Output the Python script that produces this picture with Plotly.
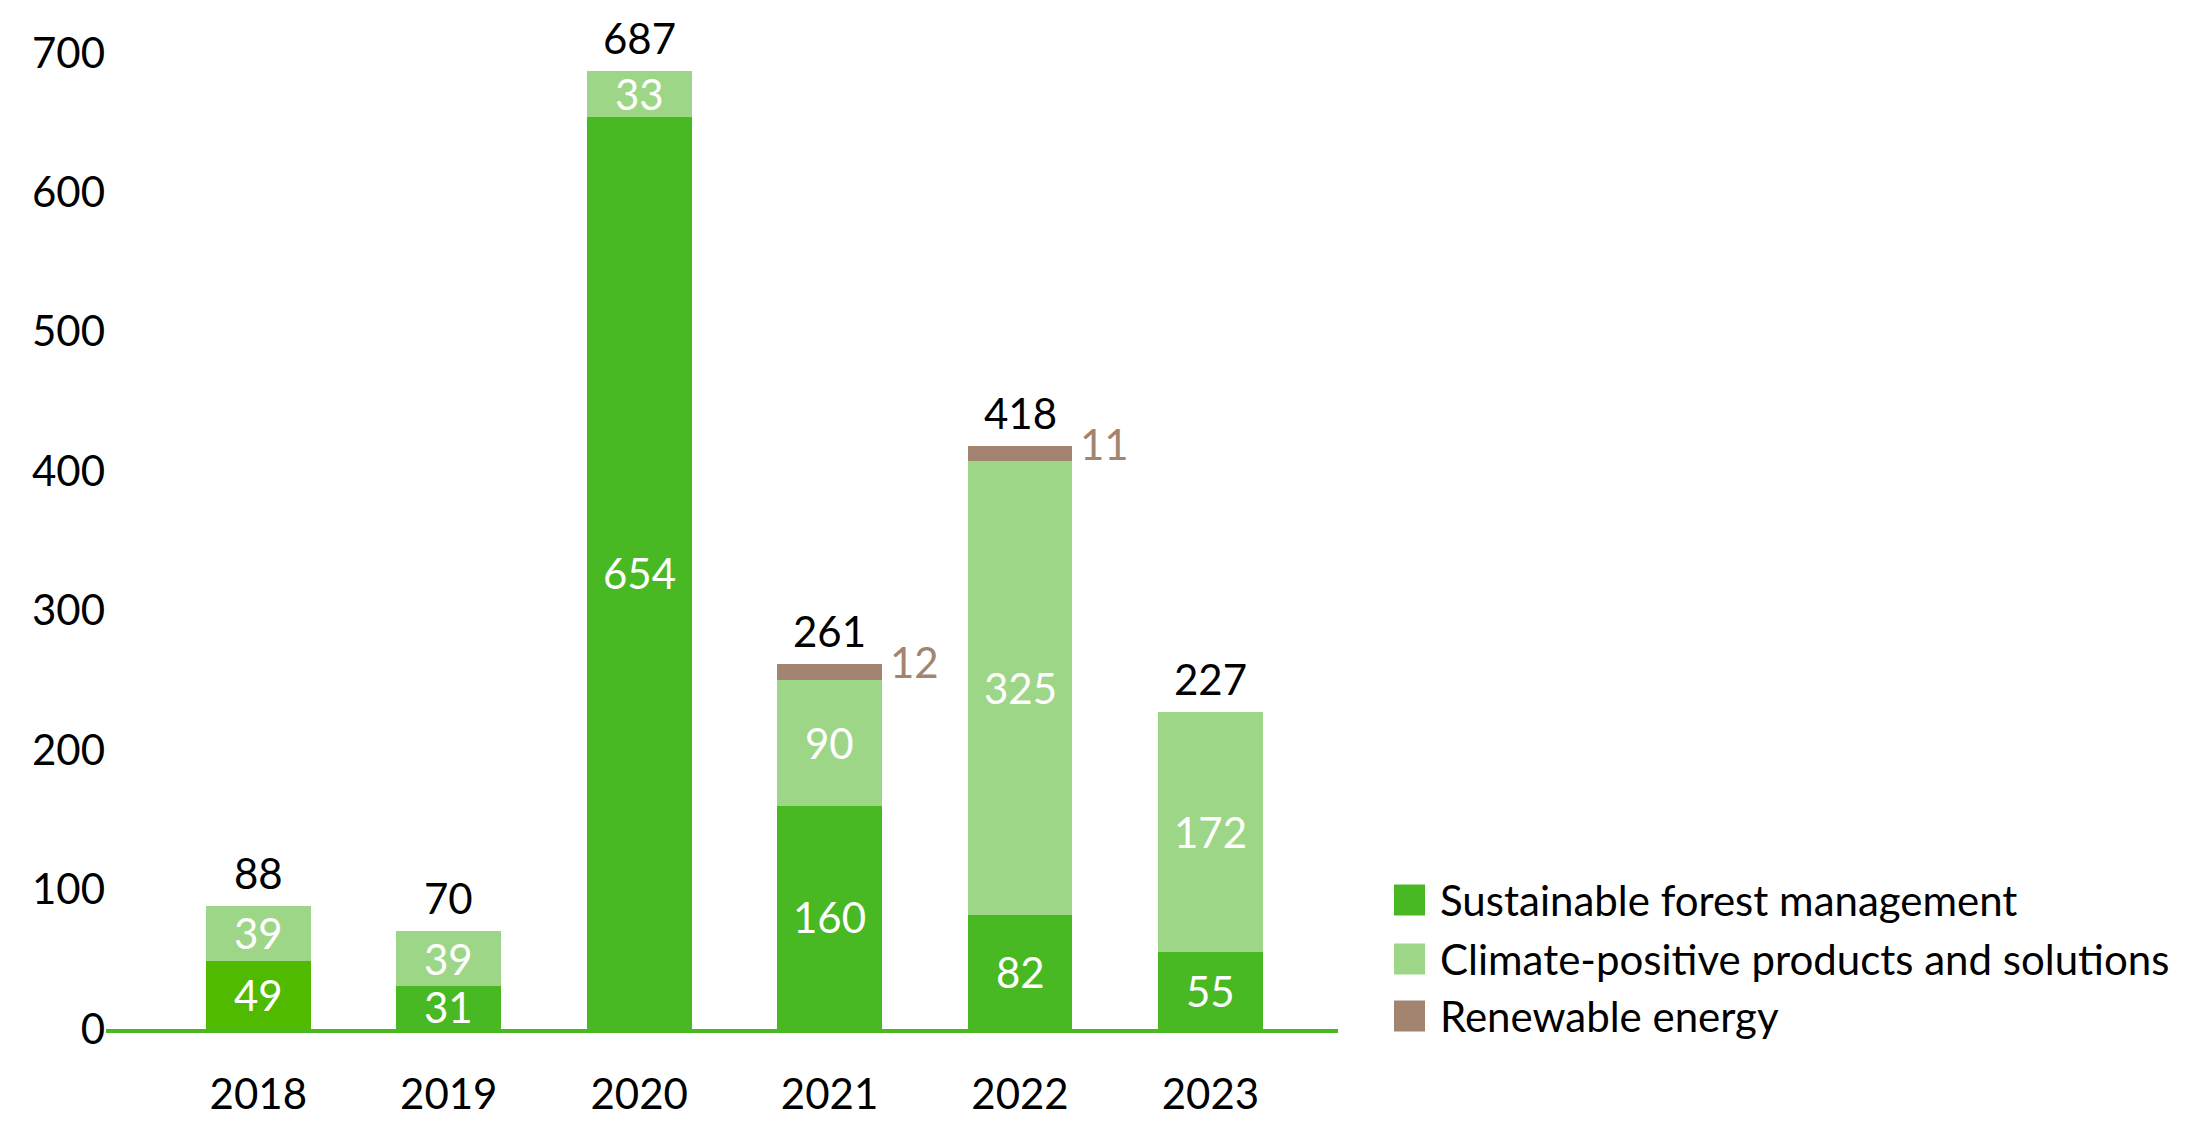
import plotly.graph_objects as go

years = ["2018", "2019", "2020", "2021", "2022", "2023"]
forest = [49, 31, 654, 160, 82, 55]
climate = [39, 39, 33, 90, 325, 172]
renewable = [0, 0, 0, 12, 11, 0]
totals = [88, 70, 687, 261, 418, 227]
series_names = ["Sustainable forest management", "Climate-positive products and solutions", "Renewable energy"]

FOREST_COLORS = ["#4FBA00", "#48B923", "#48B923", "#48B923", "#48B923", "#48B923"]
C_FOREST = "#48B923"
C_CLIMATE = "#9ED687"
C_RENEW = "#A38471"
FONT = "Lato"
FS = 42
BAR_W = 0.55

fig = go.Figure()
fig.add_trace(go.Bar(x=years, y=forest, name=series_names[0], marker_color=FOREST_COLORS,
                     width=BAR_W, marker_line_width=0, showlegend=False))
fig.add_trace(go.Bar(x=years, y=climate, name=series_names[1], marker_color=C_CLIMATE,
                     width=BAR_W, marker_line_width=0, showlegend=False))
fig.add_trace(go.Bar(x=years, y=renewable, name=series_names[2], marker_color=C_RENEW,
                     width=BAR_W, marker_line_width=0, showlegend=False))

ann = []
for i, y in enumerate(years):
    f, c, r, t = forest[i], climate[i], renewable[i], totals[i]
    ann.append(dict(x=i, y=f / 2, text=str(f), showarrow=False,
                    font=dict(color="white", size=FS, family=FONT)))
    ann.append(dict(x=i, y=f + c / 2, text=str(c), showarrow=False,
                    font=dict(color="white", size=FS, family=FONT)))
    if r:
        ann.append(dict(x=i + BAR_W / 2, y=f + c + r / 2, text=str(r), showarrow=False,
                        xanchor="left", xshift=6, yshift=10,
                        font=dict(color=C_RENEW, size=FS, family=FONT)))
    ann.append(dict(x=i, y=f + c + r, text=str(t), showarrow=False, yanchor="bottom", yshift=6,
                    font=dict(color="black", size=FS, family=FONT)))

# manual legend with large square swatches
plot_l, plot_r, plot_t, plot_b = 106, 1338, 11, 1029
pw, ph = plot_r - plot_l, plot_b - plot_t
row_y = [900, 959, 1016]
colors = [C_FOREST, C_CLIMATE, C_RENEW]
shapes = []
for name, col, ry in zip(series_names, colors, row_y):
    yc = (plot_b - ry) / ph
    shapes.append(dict(type="rect", xref="paper", yref="paper",
                       x0=(1394 - plot_l) / pw, x1=(1425 - plot_l) / pw,
                       y0=yc - 15.5 / ph, y1=yc + 15.5 / ph,
                       fillcolor=col, line_width=0))
    ann.append(dict(xref="paper", yref="paper", x=(1438 - plot_l) / pw, y=yc, text=name,
                    showarrow=False, xanchor="left", yanchor="middle",
                    font=dict(color="black", size=FS, family=FONT)))

fig.update_layout(
    barmode="stack",
    width=2193, height=1122, autosize=False,
    margin=dict(l=plot_l, r=2193 - plot_r, t=plot_t, b=1122 - plot_b),
    plot_bgcolor="white", paper_bgcolor="white",
    font=dict(family=FONT, size=FS, color="black"),
    annotations=ann, shapes=shapes,
    showlegend=False,
)
fig.update_xaxes(type="category", range=[-0.8, 5.67], showgrid=False, showline=True,
                 linecolor="#4BB823", linewidth=4, ticks="", ticklabelstandoff=26,
                 automargin=False,
                 tickfont=dict(size=FS, family=FONT, color="black"))
fig.update_yaxes(range=[0, 730], showgrid=False, zeroline=False, showline=False,
                 tickvals=[0, 100, 200, 300, 400, 500, 600, 700], ticks="",
                 automargin=False,
                 tickfont=dict(size=FS, family=FONT, color="black"))

fig.write_html("out.html")
